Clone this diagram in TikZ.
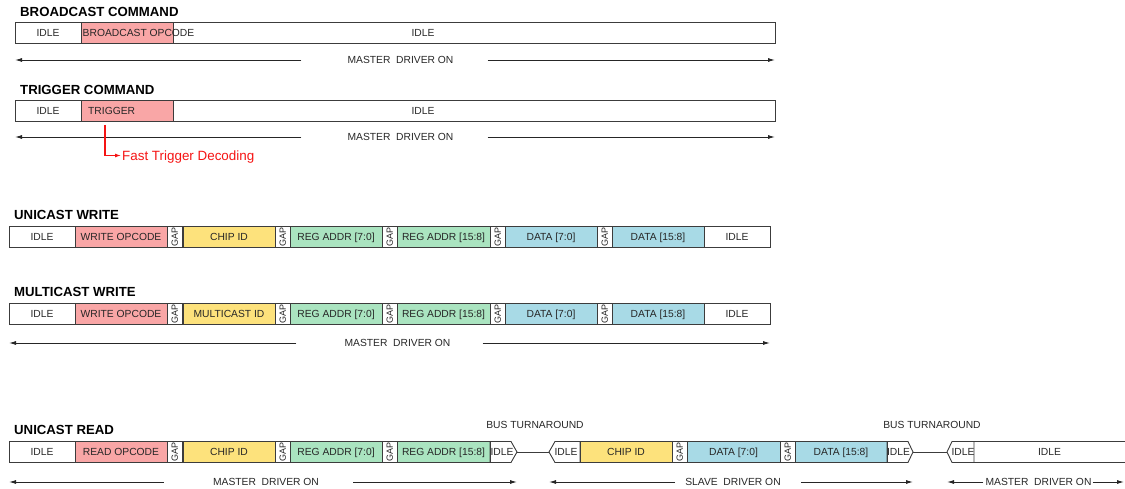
\documentclass[tikz,border=0pt]{standalone}
\usepackage{fontspec}
\setmainfont{Liberation Sans}
\usetikzlibrary{arrows.meta}
\definecolor{opk}{RGB}{249,166,166}
\definecolor{idy}{RGB}{253,226,124}
\definecolor{adg}{RGB}{170,228,192}
\definecolor{dtb}{RGB}{168,218,230}
\definecolor{edgegray}{RGB}{60,60,60}
\definecolor{trgred}{RGB}{245,20,20}
\tikzset{
	cell/.style={draw=edgegray, line width=0.9pt, anchor=west, minimum height=21, inner sep=0, outer sep=0, text=black!85},
	fld/.style={cell, text height=7.4pt, text depth=0pt, font=\fontsize{10.3}{12}\selectfont},
	gapbox/.style={cell, minimum width=15.5, font=\fontsize{9}{10}\selectfont},
	txt/.style={inner sep=0, text height=7.4pt, text depth=0pt, text=black!85, font=\fontsize{10.3}{12}\selectfont},
	ttl/.style={anchor=west, inner sep=0, font=\bfseries\fontsize{13.2}{15}\selectfont},
	drv/.style={-{Latex[length=7pt,width=4pt]}, line width=0.9pt, black!85},
	trgline/.style={draw=trgred, line width=1.1pt, -{Latex[length=6pt,width=4pt]}},
	turn/.style={draw=edgegray, line width=0.9pt},
}
\begin{document}
\begin{tikzpicture}[x=1pt, y=-1pt]
			%%%%% START %%%%%
			\useasboundingbox (0,0) rectangle (1125,489);
			
			% broadcast
			\node[ttl] (t1) at (20,11.5) {BROADCAST COMMAND};
			\node[fld, minimum width=66] (b1) at (15,33) {IDLE};
			\node[fld, fill=opk, minimum width=92] (b2) at (81,33) {};
			\node[fld, minimum width=602] (b3) at (173,33) {};
			\node[txt, anchor=west] (b2t) at (82.5,33) {BROADCAST OPCODE};
			\node[txt] (b3t) at (423,33) {IDLE};
			
			\node[txt] (md1) at (400.5,60) {MASTER\ \ DRIVER ON};
			\draw[drv] ([xshift=-46]md1.west) -- (md1.west -| b1.west);
			\draw[drv] ([xshift=34]md1.east) -- (md1.east -| b3.east);
			
			% trigger
			\node[ttl] (t2) at (20,89.7) {TRIGGER COMMAND};
			\node[fld, minimum width=66] (tr1) at (15,111) {IDLE};
			\node[fld, fill=opk, minimum width=92] (tr2) at (81,111) {};
			\node[fld, minimum width=602] (tr3) at (173,111) {};
			\node[txt, anchor=west] (tr2t) at (88,111) {TRIGGER};
			\node[txt] (tr3t) at (423,111) {IDLE};
			
			\node[txt] (md2) at (400.5,137) {MASTER\ \ DRIVER ON};
			\draw[drv] ([xshift=-46]md2.west) -- (md2.west -| tr1.west);
			\draw[drv] ([xshift=34]md2.east) -- (md2.east -| tr3.east);
			
			\node[inner sep=0, anchor=west, text=trgred, text depth=0pt, font=\fontsize{13.4}{15}\selectfont] (ftd) at (122,155.5) {Fast Trigger Decoding};
			\draw[trgline] ([xshift=24, yshift=-3.5]tr2.south west) |- ([xshift=-1]ftd.west);
			
			% unicast write
			\node[ttl] (t3) at (14,215) {UNICAST WRITE};
			\node[fld, minimum width=66] (uw1) at (9,237) {IDLE};
			\node[fld, fill=opk, minimum width=92] (uw2) at (75,237) {WRITE OPCODE};
			\node[gapbox] (uw3) at (167,237) {\rotatebox{90}{GAP}};
			\node[fld, fill=idy, minimum width=92] (uw4) at (183,237) {CHIP ID};
			\node[gapbox] (uw5) at (275,237) {\rotatebox{90}{GAP}};
			\node[fld, fill=adg, minimum width=92] (uw6) at (290,237) {REG ADDR [7:0]};
			\node[gapbox] (uw7) at (382,237) {\rotatebox{90}{GAP}};
			\node[fld, fill=adg, minimum width=93] (uw8) at (397,237) {REG ADDR [15:8]};
			\node[gapbox] (uw9) at (490,237) {\rotatebox{90}{GAP}};
			\node[fld, fill=dtb, minimum width=92] (uw10) at (505,237) {DATA [7:0]};
			\node[gapbox] (uw11) at (597,237) {\rotatebox{90}{GAP}};
			\node[fld, fill=dtb, minimum width=92] (uw12) at (612,237) {DATA [15:8]};
			\node[fld, minimum width=66] (uw13) at (704,237) {IDLE};
			
			% multicast write
			\node[ttl] (t4) at (14,292) {MULTICAST WRITE};
			\node[fld, minimum width=66] (m1) at (9,314) {IDLE};
			\node[fld, fill=opk, minimum width=92] (m2) at (75,314) {WRITE OPCODE};
			\node[gapbox] (m3) at (167,314) {\rotatebox{90}{GAP}};
			\node[fld, fill=idy, minimum width=92] (m4) at (183,314) {MULTICAST ID};
			\node[gapbox] (m5) at (275,314) {\rotatebox{90}{GAP}};
			\node[fld, fill=adg, minimum width=92] (m6) at (290,314) {REG ADDR [7:0]};
			\node[gapbox] (m7) at (382,314) {\rotatebox{90}{GAP}};
			\node[fld, fill=adg, minimum width=93] (m8) at (397,314) {REG ADDR [15:8]};
			\node[gapbox] (m9) at (490,314) {\rotatebox{90}{GAP}};
			\node[fld, fill=dtb, minimum width=92] (m10) at (505,314) {DATA [7:0]};
			\node[gapbox] (m11) at (597,314) {\rotatebox{90}{GAP}};
			\node[fld, fill=dtb, minimum width=92] (m12) at (612,314) {DATA [15:8]};
			\node[fld, minimum width=66] (m13) at (704,314) {IDLE};
			
			\node[txt] (md3) at (397.5,343) {MASTER\ \ DRIVER ON};
			\draw[drv] ([xshift=-48]md3.west) -- (md3.west -| m1.west);
			\draw[drv] ([xshift=32]md3.east) -- (md3.east -| m13.east);
			
			% unicast read
			\node[ttl] (t5) at (14,429.5) {UNICAST READ};
			\node[fld, minimum width=66] (r1) at (9,452) {IDLE};
			\node[fld, fill=opk, minimum width=92] (r2) at (75,452) {READ OPCODE};
			\node[gapbox] (r3) at (167,452) {\rotatebox{90}{GAP}};
			\node[fld, fill=idy, minimum width=92] (r4) at (183,452) {CHIP ID};
			\node[gapbox] (r5) at (275,452) {\rotatebox{90}{GAP}};
			\node[fld, fill=adg, minimum width=92] (r6) at (290,452) {REG ADDR [7:0]};
			\node[gapbox] (r7) at (382,452) {\rotatebox{90}{GAP}};
			\node[fld, fill=adg, minimum width=93] (r8) at (397,452) {REG ADDR [15:8]};
			
			\draw[turn] (r8.north east) -- ++(21,0) -- ++(6,10.5) coordinate (ta) -- ++(-6,10.5) -- (r8.south east) -- cycle;
			\node[txt] (ri1) at (502,452) {IDLE};
			
			\node[fld, fill=idy, minimum width=92] (r10) at (580,452) {CHIP ID};
			\draw[turn] (r10.north west) -- ++(-25,0) -- ++(-6,10.5) coordinate (tb) -- ++(6,10.5) -- (r10.south west) -- cycle;
			\node[txt] (ri2) at (566,452) {IDLE};
			\draw[turn] (ta) -- (tb);
			
			\node[gapbox] (r11) at (672,452) {\rotatebox{90}{GAP}};
			\node[fld, fill=dtb, minimum width=93] (r12) at (687,452) {DATA [7:0]};
			\node[gapbox] (r13) at (780,452) {\rotatebox{90}{GAP}};
			\node[fld, fill=dtb, minimum width=92] (r14) at (795,452) {DATA [15:8]};
			
			\draw[turn] (r14.north east) -- ++(21,0) -- ++(5,10.5) coordinate (tc) -- ++(-5,10.5) -- (r14.south east) -- cycle;
			\node[txt] (ri3) at (898.5,452) {IDLE};
			
			\node[fld, draw=none, minimum width=151] (r15) at (974,452) {IDLE};
			\draw[turn] (r15.north west) -- ++(-22,0) -- ++(-5,10.5) coordinate (td) -- ++(5,10.5) -- (r15.south west) -- cycle;
			\draw[turn] (r15.north west) -- (r15.north east) (r15.south west) -- (r15.south east);
			\node[txt] (ri4) at (963,452) {IDLE};
			\draw[turn] (tc) -- (td);
			
			\node[txt] (bt1) at (535,425) {BUS TURNAROUND};
			\node[txt] (bt2) at (932,425) {BUS TURNAROUND};
			
			\node[txt] (md4) at (266,482) {MASTER\ \ DRIVER ON};
			\draw[drv] ([xshift=-49]md4.west) -- (md4.west -| r1.west);
			\draw[drv] ([xshift=34]md4.east) -- (md4.east -| ta);
			\node[txt] (md5) at (733,482) {SLAVE\ \ DRIVER ON};
			\draw[drv] ([xshift=-10]md5.west) -- (md5.west -| tb);
			\draw[drv] ([xshift=20]md5.east) -- (md5.east -| tc);
			\node[txt] (md6) at (1038.5,482) {MASTER\ \ DRIVER ON};
			\draw[drv] ([xshift=-2]md6.west) -- (md6.west -| td);
			\draw[drv] ([xshift=1]md6.east) -- ([xshift=-1]md6.east -| r15.east);
			
			%%%%% END %%%%%
\end{tikzpicture}
\end{document}
